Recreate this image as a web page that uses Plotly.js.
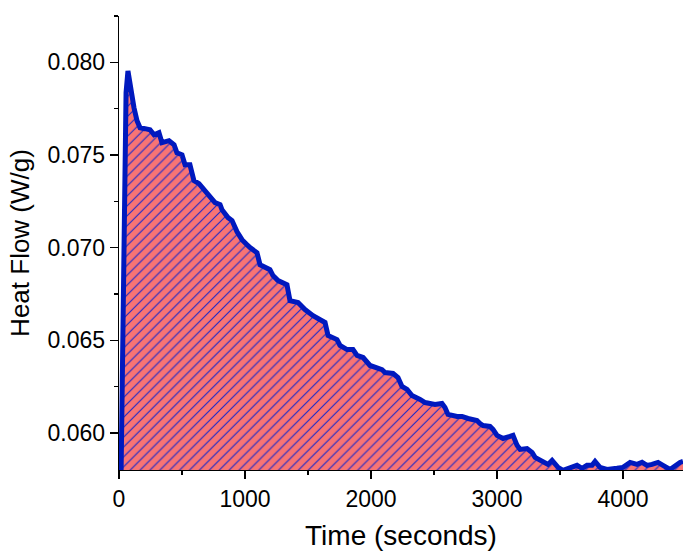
<!DOCTYPE html>
<html>
<head>
<meta charset="utf-8">
<script src="https://cdn.plot.ly/plotly-3.0.1.min.js"></script>
<style>html,body{margin:0;padding:0;background:#fff;}#chart{width:683px;height:551px;}</style>
</head>
<body>
<div id="chart"></div>
<script>
// Time (seconds)
var timeSeconds = [16, 40, 56, 71, 87, 119, 143, 167, 206, 246, 278, 317, 341, 397, 437, 460, 500, 524, 563, 595,
  635, 683, 722, 762, 802, 817, 865, 897, 937, 976, 1016, 1040, 1095, 1119, 1198, 1222, 1262, 1333, 1357, 1421,
  1476, 1540, 1635, 1659, 1730, 1754, 1810, 1857, 1889, 1937, 1992, 2032, 2087, 2111, 2175, 2214, 2246, 2286, 2325, 2389,
  2429, 2508, 2563, 2587, 2611, 2683, 2722, 2770, 2841, 2865, 2889, 2944, 2968, 3000, 3048, 3103, 3127, 3159, 3183, 3238,
  3278, 3302, 3357, 3405, 3437, 3460, 3484, 3524, 3579, 3635, 3675, 3714, 3754, 3778, 3817, 3873, 3952, 4000, 4056, 4111,
  4151, 4190, 4230, 4278, 4317, 4373, 4452, 4476];
// Heat Flow (W/g)
var heatFlow = [0.0576, 0.07243, 0.07836, 0.07954, 0.07879, 0.07755, 0.07685, 0.07647, 0.07642, 0.07636, 0.07609, 0.07620, 0.07566, 0.07577, 0.07555, 0.07512, 0.07501, 0.07447, 0.07447, 0.07361,
  0.07345, 0.07307, 0.07270, 0.07243, 0.07232, 0.07205, 0.07162, 0.07146, 0.07086, 0.07043, 0.07016, 0.07000, 0.06973, 0.06908, 0.06881, 0.06849, 0.06822, 0.06800, 0.06714, 0.06704,
  0.06666, 0.06633, 0.06596, 0.06526, 0.06504, 0.06472, 0.06450, 0.06450, 0.06418, 0.06407, 0.06364, 0.06353, 0.06342, 0.06326, 0.06321, 0.06299, 0.06251, 0.06235, 0.06202, 0.06181,
  0.06164, 0.06154, 0.06159, 0.06137, 0.06100, 0.06089, 0.06089, 0.06078, 0.06067, 0.06051, 0.06040, 0.06035, 0.06019, 0.05987, 0.05970, 0.05981, 0.05987, 0.05933, 0.05911, 0.05916,
  0.05895, 0.05868, 0.05846, 0.05830, 0.05852, 0.05830, 0.05814, 0.05798, 0.05814, 0.05825, 0.05809, 0.05825, 0.05825, 0.05846, 0.05814, 0.05803, 0.05809, 0.05814, 0.05841, 0.05830,
  0.05841, 0.05825, 0.05830, 0.05841, 0.05825, 0.05803, 0.05841, 0.05846];

var xTitle = 'Time (seconds)';
var yTitle = 'Heat Flow (W/g)';

var trace = {
  x: timeSeconds,
  y: heatFlow,
  type: 'scatter',
  mode: 'lines',
  fill: 'tozeroy',
  fillcolor: '#F87474',
  fillpattern: {shape: '/', bgcolor: '#F87474', fgcolor: '#1A28C8', size: 7, solidity: 0.16},
  line: {color: '#0019BE', width: 5},
  hoverinfo: 'skip'
};

var font = {family: 'Arial, "Liberation Sans", sans-serif', color: '#000'};

var layout = {
  width: 683, height: 551,
  margin: {l: 119, r: 0, t: 16, b: 81},
  paper_bgcolor: '#fff', plot_bgcolor: '#fff',
  showlegend: false,
  font: {family: font.family, color: '#000', size: 23},
  xaxis: {
    range: [0, 4476],
    showline: true, linecolor: '#000', linewidth: 1.3, mirror: false,
    ticks: 'outside', ticklen: 8, tickwidth: 1.3, tickcolor: '#000',
    dtick: 1000, tick0: 0,
    minor: {ticks: 'outside', dtick: 500, ticklen: 4, tickwidth: 1.3, tickcolor: '#000'},
    showgrid: false, zeroline: false,
    tickfont: {family: font.family, size: 23, color: '#000'},
    title: {text: xTitle, font: {family: font.family, size: 28, color: '#000'}, standoff: 16}
  },
  yaxis: {
    range: [0.058, 0.0825],
    showline: true, linecolor: '#000', linewidth: 1.3,
    ticks: 'outside', ticklen: 8, tickwidth: 1.3, tickcolor: '#000',
    dtick: 0.005, tick0: 0.06, tickformat: '.3f',
    minor: {ticks: 'outside', dtick: 0.0025, ticklen: 4, tickwidth: 1.3, tickcolor: '#000'},
    showgrid: false, zeroline: false,
    tickfont: {family: font.family, size: 23, color: '#000'},
    title: {text: yTitle, font: {family: font.family, size: 26, color: '#000'}, standoff: 10}
  }
};

Plotly.newPlot('chart', [trace], layout, {staticPlot: true, displayModeBar: false});
</script>
</body>
</html>
